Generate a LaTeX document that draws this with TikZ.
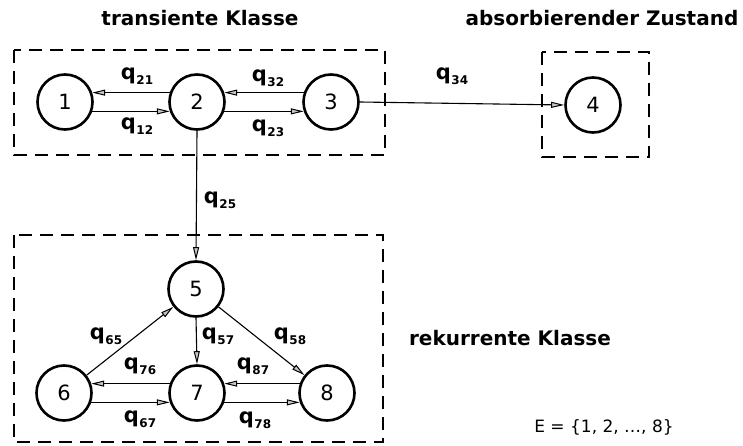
\documentclass[tikz,border=0pt]{standalone}
\usepackage{fontspec}
\setmainfont{DejaVu Sans}
\usetikzlibrary{arrows.meta}
% rate symbol q with a lowered bold index
\newcommand{\rateq}[1]{q\kern0.5pt\raisebox{-5pt}{\fontsize{12}{12}\selectfont\bfseries #1}}
\begin{document}
\begin{tikzpicture}[x=1pt,y=-1pt,
  state/.style={circle,draw,line width=2.6pt,minimum size=55pt,inner sep=0pt,font=\fontsize{21}{21}\selectfont},
  arr/.style={line width=1.1pt,-{Triangle[length=13pt,width=6pt,fill=gray!45,line width=1pt]}},
  frame/.style={draw,line width=1.3pt,dash pattern=on 13pt off 8pt},
  rate/.style={font=\fontsize{21}{21}\selectfont\bfseries,inner sep=0pt},
  heading/.style={font=\fontsize{20}{20}\selectfont\bfseries,inner sep=0pt}]
\useasboundingbox (0,0) rectangle (743,446);

% dashed class frames
\draw[frame] (14,50) rectangle (385,155);
\draw[frame] (542,52) rectangle (649,157);
\draw[frame] (14,235) rectangle (383,442);

% headings
\node[heading] (ttrans) at (200,18) {transiente Klasse};
\node[heading] (tabs) at (602,18) {absorbierender Zustand};
\node[heading] (trek) at (510,338) {rekurrente Klasse};
\node[font=\fontsize{17}{17}\selectfont,inner sep=0pt] (tset) at (604,427) {E = \{1, 2, \dots, 8\}};

% states
\node[state] (n1) at (65,102) {1};
\node[state] (n2) at (197,102) {2};
\node[state] (n3) at (331,102) {3};
\node[state] (n4) at (593,105) {4};
\node[state] (n5) at (196,289) {5};
\node[state] (n6) at (64,393) {6};
\node[state] (n7) at (197,393) {7};
\node[state] (n8) at (327,393) {8};

% transitions
\draw[arr] (n2.161) -- (n1.19);
\draw[arr] (n1.-19) -- (n2.199);
\draw[arr] (n3.161) -- (n2.19);
\draw[arr] (n2.-19) -- (n3.199);
\draw[arr] (n3.east) -- (n4.west);
\draw[arr] (n2.south) -- (n5.north);
\draw[arr] (n5.south) -- (n7.north);
\draw[arr] (n6) -- (n5);
\draw[arr] (n5) -- (n8);
\draw[arr] (n7.161) -- (n6.19);
\draw[arr] (n6.-19) -- (n7.199);
\draw[arr] (n8.161) -- (n7.19);
\draw[arr] (n7.-19) -- (n8.199);

% rate labels
\node[rate] (l21) at (137,76) {\rateq{21}};
\node[rate] (l12) at (137,126) {\rateq{12}};
\node[rate] (l32) at (268,78) {\rateq{32}};
\node[rate] (l23) at (268,128) {\rateq{23}};
\node[rate] (l34) at (452,76) {\rateq{34}};
\node[rate] (l25) at (220,200) {\rateq{25}};
\node[rate] (l65) at (106,336) {\rateq{65}};
\node[rate] (l57) at (218,336) {\rateq{57}};
\node[rate] (l58) at (290,336) {\rateq{58}};
\node[rate] (l76) at (140,366) {\rateq{76}};
\node[rate] (l87) at (253,366) {\rateq{87}};
\node[rate] (l67) at (140,419) {\rateq{67}};
\node[rate] (l78) at (255,420) {\rateq{78}};
\end{tikzpicture}
\end{document}
